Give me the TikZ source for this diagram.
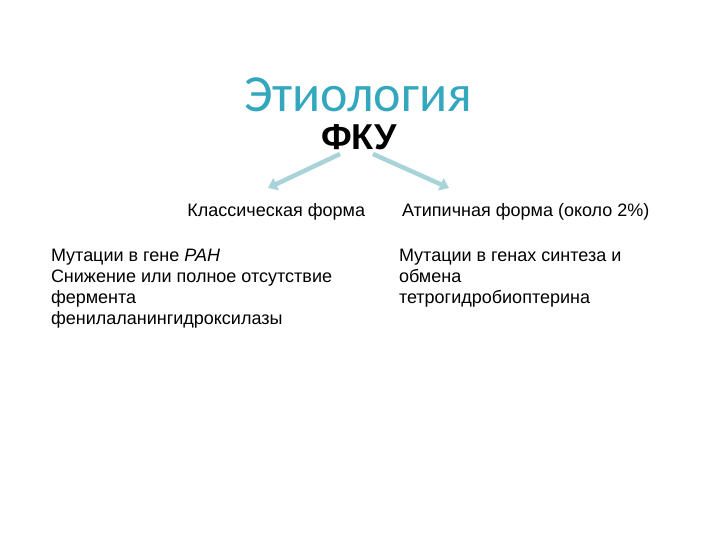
\documentclass[tikz,border=0pt]{standalone}
\usepackage{fontspec}
\setmainfont{Liberation Sans}
\newfontfamily\titlefont{Carlito}
\usetikzlibrary{arrows.meta}
\definecolor{titleteal}{HTML}{33A7BD}
\definecolor{arrowblue}{HTML}{A8D3D8}
\tikzset{
  body/.style={inner sep=0pt, outer sep=0pt, font=\fontsize{18}{21}\selectfont, align=left},
  branch/.style={draw=arrowblue, line width=4.5pt, -{Triangle[width=13pt,length=9pt]}},
}
\begin{document}
\begin{tikzpicture}[x=1pt,y=-1pt]
\useasboundingbox (0,0) rectangle (720,540);
\node[anchor=base, inner sep=0pt, text depth=0pt, text=titleteal, font=\titlefont\fontsize{52}{60}\selectfont] (title) at (358,112) {Этиология};
\node[anchor=base, inner sep=0pt, text height=24pt, font=\bfseries\fontsize{36}{40}\selectfont] (fku) at (359,150) {ФКУ};
\node[body, anchor=base east] (classic) at (365,217) {Классическая форма};
\node[body, anchor=base west] (atyp) at (402,217) {Атипичная форма (около 2\%)};
\node[body, anchor=north west] (leftlist) at (51,249) {Мутации в гене \textit{PAH}\\Снижение или полное отсутствие\\фермента\\фенилаланингидроксилазы};
\node[body, anchor=north west] (rightlist) at (399,249) {Мутации в генах синтеза и\\обмена\\тетрогидробиоптерина};
\coordinate (ls) at (340,154);
\coordinate (le) at (268,188);
\coordinate (rs) at (373,154);
\coordinate (re) at (449,188);
\draw[branch] (ls) -- (le);
\draw[branch] (rs) -- (re);
\end{tikzpicture}
\end{document}
